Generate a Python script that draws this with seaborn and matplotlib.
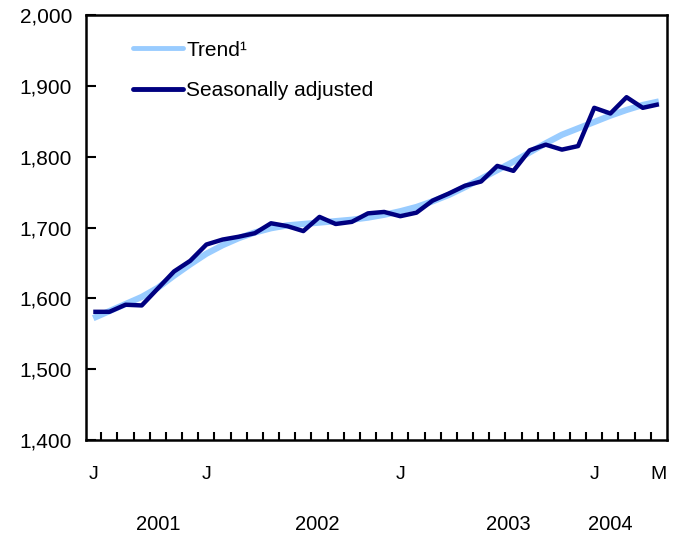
import numpy as np
import pandas as pd
import matplotlib
matplotlib.use("Agg")
import matplotlib.pyplot as plt
import matplotlib.transforms as mtransforms
from matplotlib.lines import Line2D
import seaborn as sns

# %% data: monthly, June 2001 to May 2004
months = pd.period_range("2001-06", "2004-05", freq="M")
seasonally_adjusted = [1581, 1581, 1591, 1590, 1614, 1638, 1653, 1676, 1683, 1687,
                       1692, 1706, 1702, 1695, 1715, 1705, 1708, 1720, 1722, 1716,
                       1721, 1738, 1748, 1759, 1765, 1787, 1780, 1809, 1817, 1810,
                       1815, 1869, 1861, 1884, 1869, 1874]
trend = [1572, 1582, 1592, 1602, 1615, 1632, 1648, 1663, 1675, 1685,
         1693, 1699, 1703, 1705, 1707, 1709, 1711, 1714, 1718, 1723,
         1729, 1737, 1746, 1757, 1769, 1781, 1793, 1806, 1819, 1831,
         1840, 1849, 1858, 1866, 1873, 1878]
month_labels = {0: "J", 7: "J", 19: "J", 31: "J", 35: "M"}
year_labels = ["2001", "2002", "2003", "2004"]
year_pos = [4.0, 13.85, 25.7, 32.0]

df = pd.DataFrame({"idx": np.arange(len(months)),
                   "Trend\u00b9": trend,
                   "Seasonally adjusted": seasonally_adjusted})
long = df.melt(id_vars="idx", var_name="series", value_name="value")

# %% style
sns.set_style("white")
plt.rcParams['font.family'] = ['Liberation Sans', 'DejaVu Sans']
plt.rcParams['text.color'] = 'black'
plt.rcParams['xtick.color'] = 'black'
plt.rcParams['ytick.color'] = 'black'

fig = plt.figure(figsize=(6.84, 5.37), dpi=100)
ax = fig.add_axes([0.1257, 0.1806, 0.8494, 0.7914])

sns.lineplot(data=long, x="idx", y="value", hue="series", ax=ax,
             palette={"Trend\u00b9": "#99CCFF", "Seasonally adjusted": "#000080"},
             legend=False)
ax.lines[0].set_linewidth(4.5)
ax.lines[1].set_linewidth(3.2)
ax.lines[0].set_solid_capstyle("butt")
ax.lines[1].set_solid_capstyle("butt")

ax.set_xlim(-0.45, 35.5)
ax.set_ylim(1400, 2000)
ax.set_yticks(np.arange(1400, 2001, 100))
ax.set_yticklabels([f"{v:,}" for v in range(1400, 2001, 100)], fontsize=15)
ax.tick_params(axis="y", left=True, direction="in", length=7, width=1.5, pad=10)

# month labels as major ticks with no marks, boundaries as minor ticks
ax.set_xticks(list(month_labels.keys()))
ax.set_xticklabels(list(month_labels.values()), fontsize=14)
ax.tick_params(axis="x", which="major", bottom=True, length=0, pad=19)
ax.set_xticks(np.arange(0.5, 35, 1.0), minor=True)
ax.tick_params(axis="x", which="minor", bottom=True, direction="in", length=6, width=1.5)

trans = mtransforms.blended_transform_factory(ax.transData, fig.transFigure)
for pos, lab in zip(year_pos, year_labels):
    ax.text(pos, 1 - 525 / 537, lab, transform=trans, ha="center", va="center", fontsize=14.5)

ax.set_xlabel("")
ax.set_ylabel("")
for sp in ax.spines.values():
    sp.set_visible(True)
    sp.set_color("black")
    sp.set_linewidth(1.8)

handles = [Line2D([], [], color="#99CCFF", lw=3.5),
           Line2D([], [], color="#000080", lw=3.5)]
ax.legend(handles, ["Trend\u00b9", "Seasonally adjusted"], loc="upper left",
          bbox_to_anchor=(0.081, 0.94), frameon=False, fontsize=15,
          borderpad=0, borderaxespad=0,
          handlelength=2.4, handletextpad=0.15, labelspacing=1.05)

fig.savefig("out.png", dpi=100, facecolor="white")
